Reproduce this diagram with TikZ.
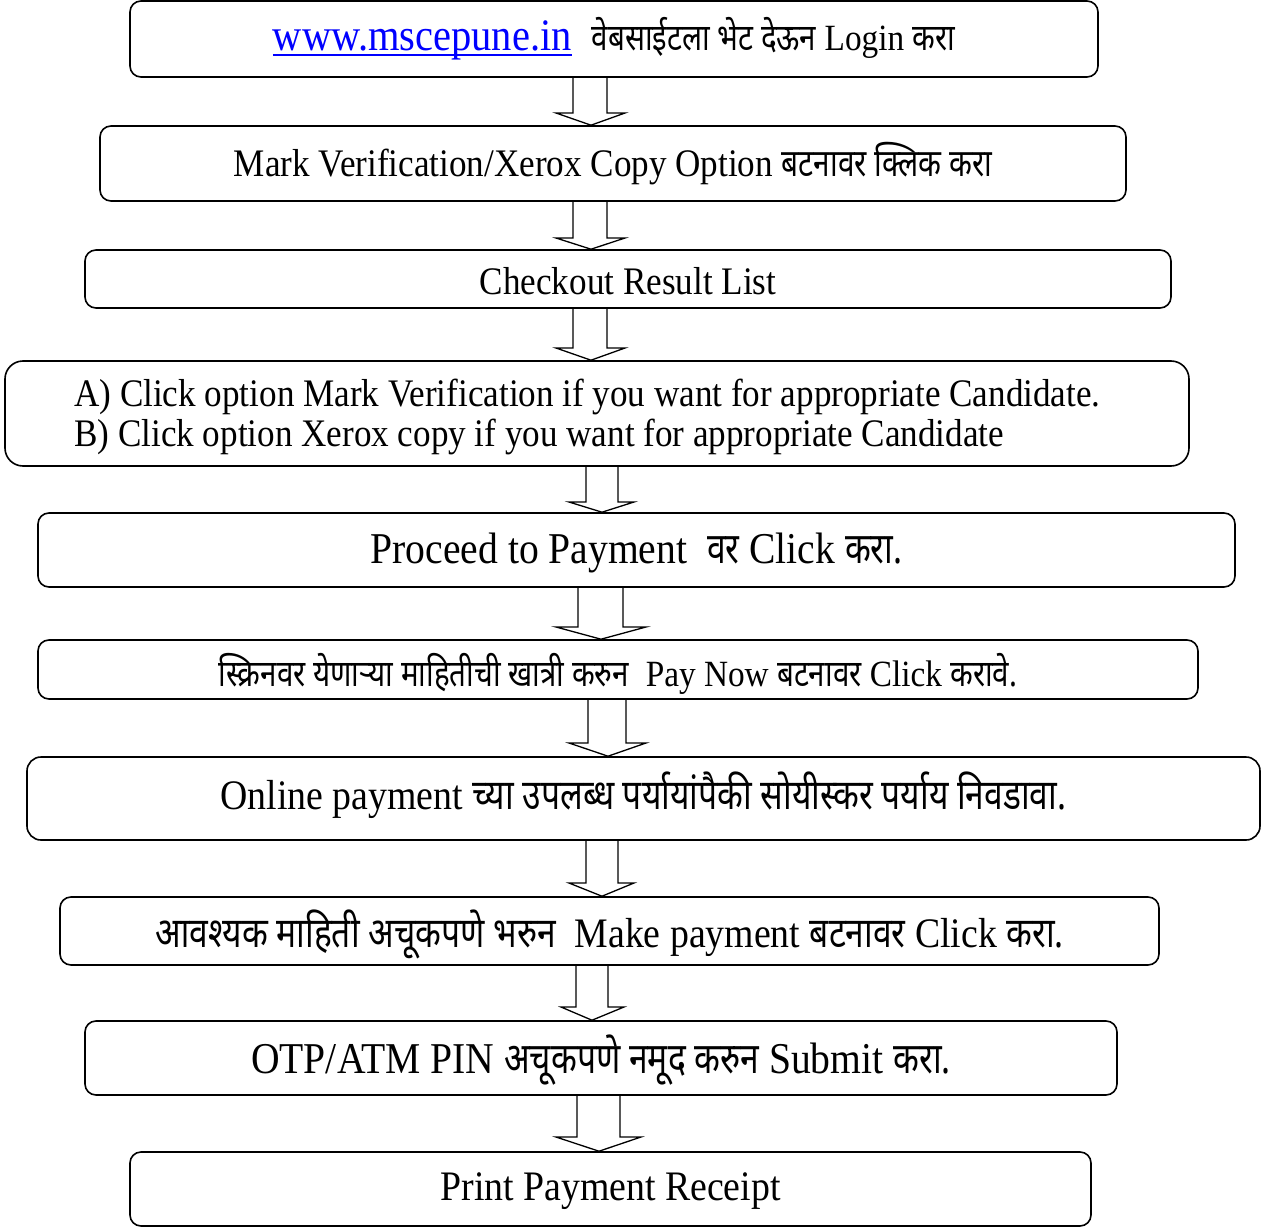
\documentclass[tikz,border=0pt]{standalone}
\usepackage{fontspec}
\setmainfont{Liberation Serif}[FakeStretch=0.9]
\newfontfamily\dev[Script=Devanagari,Scale=0.98,FakeStretch=0.78]{Noto Sans}
\newfontfamily\devL[Script=Devanagari,Scale=1.0,FakeStretch=0.8]{Noto Sans}
\newsavebox\ulbox
\newcommand\myul[1]{\sbox\ulbox{#1}\rlap{\rule[-5pt]{\wd\ulbox}{2pt}}\usebox\ulbox}
\tikzset{
  box/.style={draw, line width=1.6pt, rounded corners=11pt, inner sep=0pt, anchor=center},
  txt/.style={inner sep=0pt, anchor=center, align=center},
  arr/.style={draw, line width=1.3pt, line join=miter},
}
\newcommand\fs[1]{\fontsize{#1}{#1}\selectfont}
% from, to, shaftL, shaftR, headL, headR, tipX, headbaseY
\newcommand\blockarr[8]{%
  \draw[arr] (#3,0 |- #1.south) -- (#3,#8) -- (#5,#8) -- (#7,0 |- #2.north)
    -- (#6,#8) -- (#4,#8) -- (#4,0 |- #1.south);}
\begin{document}
\begin{tikzpicture}[x=1pt,y=-1pt]
\useasboundingbox (0,0) rectangle (1277,1228);

% boxes
\node[box, minimum width=968pt, minimum height=76pt] (b1) at (614,39) {};
\node[box, minimum width=1026pt, minimum height=75pt] (b2) at (613,163.5) {};
\node[box, minimum width=1086pt, minimum height=58pt] (b3) at (628,279) {};
\node[box, rounded corners=18pt, minimum width=1184pt, minimum height=105pt] (b4) at (597,413.5) {};
\node[box, minimum width=1197pt, minimum height=74pt] (b5) at (636.5,550) {};
\node[box, minimum width=1160pt, minimum height=59pt] (b6) at (618,669.5) {};
\node[box, rounded corners=14pt, minimum width=1233pt, minimum height=83pt] (b7) at (643.5,798.5) {};
\node[box, minimum width=1099pt, minimum height=68pt] (b8) at (609.5,931) {};
\node[box, minimum width=1032pt, minimum height=74pt] (b9) at (601,1058) {};
\node[box, minimum width=961pt, minimum height=74pt] (b10) at (610.5,1189) {};

% texts
\node[txt, font=\fs{37}] (t1) at (b1.center)
  {\textcolor{blue}{\fs{45}\myul{www.mscepune.in}}\hspace{20pt}{\devL वेबसाईटला भेट देऊन} Login {\devL करा}};
\node[txt, font=\fs{39}] (t2) at (b2.center)
  {Mark Verification/Xerox Copy Option {\dev बटनावर क्लिक करा}};
\node[txt, font=\fs{39}, yshift=-2pt] (t3) at (b3.center)
  {Checkout Result List};
\node[txt, anchor=west, align=left, font=\fontsize{39}{40}\selectfont] (t4) at (74,417)
  {A) Click option Mark Verification if you want for appropriate Candidate.\\
   B) Click option Xerox copy if you want for appropriate Candidate};
\node[txt, font=\fs{44}, yshift=-3pt] (t5) at (b5.center)
  {Proceed to Payment\ \ {\dev वर} Click {\dev करा.}};
\node[txt, font=\fs{37}, yshift=-4pt] (t6) at (b6.center)
  {{\devL स्क्रिनवर येणाऱ्या माहितीची खात्री करुन}\ \ Pay Now {\devL बटनावर} Click {\devL करावे.}};
\node[txt, font=\fs{42}, yshift=3pt] (t7) at (b7.center)
  {Online payment {\devL च्या उपलब्ध पर्यायांपैकी सोयीस्कर पर्याय निवडावा.}};
\node[txt, font=\fs{42}, yshift=-3pt] (t8) at (b8.center)
  {{\devL आवश्यक माहिती अचूकपणे भरुन}\ \ Make payment {\devL बटनावर} Click {\devL करा.}};
\node[txt, font=\fs{44}, yshift=-2pt] (t9) at (b9.center)
  {OTP/ATM PIN {\dev अचूकपणे नमूद करुन} Submit {\dev करा.}};
\node[txt, font=\fs{42}, yshift=-2pt] (t10) at (b10.center)
  {Print Payment Receipt};

% block arrows
\blockarr{b1}{b2}{573}{607}{556}{625}{591}{113}
\blockarr{b2}{b3}{573}{607}{556}{625}{591}{238}
\blockarr{b3}{b4}{573}{607}{556}{625}{591}{348}
\blockarr{b4}{b5}{586}{618}{569}{634}{602}{502}
\blockarr{b5}{b6}{578}{623}{556}{646}{601}{627}
\blockarr{b6}{b7}{588}{626}{569}{646}{608}{743}
\blockarr{b7}{b8}{586}{618}{569}{634}{602}{883}
\blockarr{b8}{b9}{576}{608}{561}{624}{592}{1007}
\blockarr{b9}{b10}{577}{620}{556}{641}{599}{1137}
\end{tikzpicture}
\end{document}
